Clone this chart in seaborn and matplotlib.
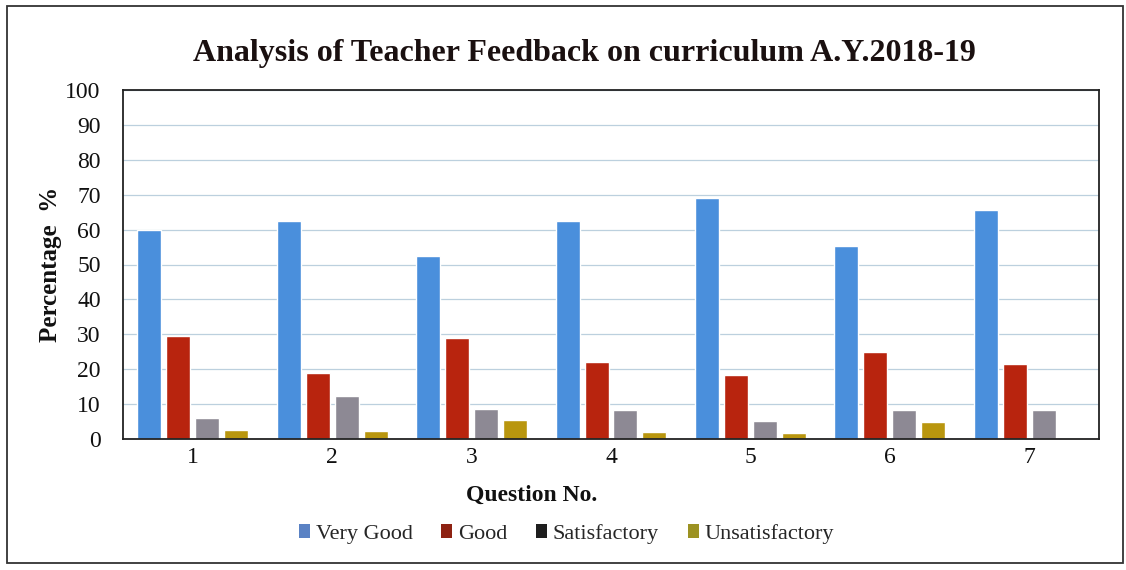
import pandas as pd
import matplotlib.pyplot as plt
import seaborn as sns
from matplotlib.patches import Rectangle, Patch

questions = ["1", "2", "3", "4", "5", "6", "7"]
very_good = [60, 62.5, 52.5, 62.5, 69, 55.3, 65.7]
good = [29.4, 19, 28.8, 22, 18.4, 25, 21.6]
satisfactory = [6, 12.4, 8.6, 8.4, 5.2, 8.3, 8.3]
unsatisfactory = [2.6, 2.3, 5.5, 2, 1.6, 4.9, 0]
ratings = ["Very Good", "Good", "Satisfactory", "Unsatisfactory"]

bar_colors = ["#4a8fdc", "#b8240e", "#8d8994", "#b9960e"]
legend_colors = ["#5a82c4", "#8e2212", "#1e1e1e", "#9c9222"]

df = pd.DataFrame({"Question": questions * 4,
                   "Rating": sum([[r] * 7 for r in ratings], []),
                   "Percent": very_good + good + satisfactory + unsatisfactory})

sns.set_style("white")
plt.rcParams["font.family"] = ["Liberation Serif", "DejaVu Serif"]

fig = plt.figure(figsize=[11.26, 5.70], dpi=100)
ax = fig.add_axes([123 / 1126, 1 - 439 / 570, (1099 - 123) / 1126, (439 - 90) / 570])
sns.barplot(ax=ax, data=df, x="Question", y="Percent", hue="Rating",
            palette=bar_colors, saturation=1, width=0.83, gap=0.17, legend=False)

ax.set_ylim(0, 100)
ax.set_yticks(range(0, 101, 10))
ax.yaxis.grid(True, color="#bcd0de", lw=0.9)
ax.set_axisbelow(True)
for s in ax.spines.values():
    s.set_color("#222222")
    s.set_linewidth(1.3)
ax.tick_params(axis="both", length=0, labelsize=17, colors="#111111")
ax.tick_params(axis="x", pad=6)
ax.tick_params(axis="y", pad=16)

ax.set_xlabel("Question No.", fontsize=17, fontweight="bold", color="#111111")
ax.xaxis.set_label_coords(0.419, -0.13)
ax.set_ylabel("Percentage  %", fontsize=18, fontweight="bold", color="#111111")
ax.yaxis.set_label_coords(-0.063, 0.5)

fig.text(0.519, 0.907, "Analysis of Teacher Feedback on curriculum A.Y.2018-19",
         ha="center", va="center", fontsize=23, fontweight="bold", color="#1a1010")

handles = [Patch(facecolor=c, edgecolor="none") for c in legend_colors]
fig.legend(handles, ratings, loc="center", bbox_to_anchor=(0.503, 0.063), ncol=4,
           frameon=False, fontsize=16, handlelength=0.5, handleheight=0.55,
           handletextpad=0.25, columnspacing=1.3)

fig.patches.append(Rectangle((7 / 1126, 1 - 563 / 570), (1123 - 7) / 1126, (563 - 6) / 570,
                             transform=fig.transFigure, fill=False, edgecolor="#333333", lw=1.3))

fig.savefig("out.png", dpi=100, facecolor="white")
